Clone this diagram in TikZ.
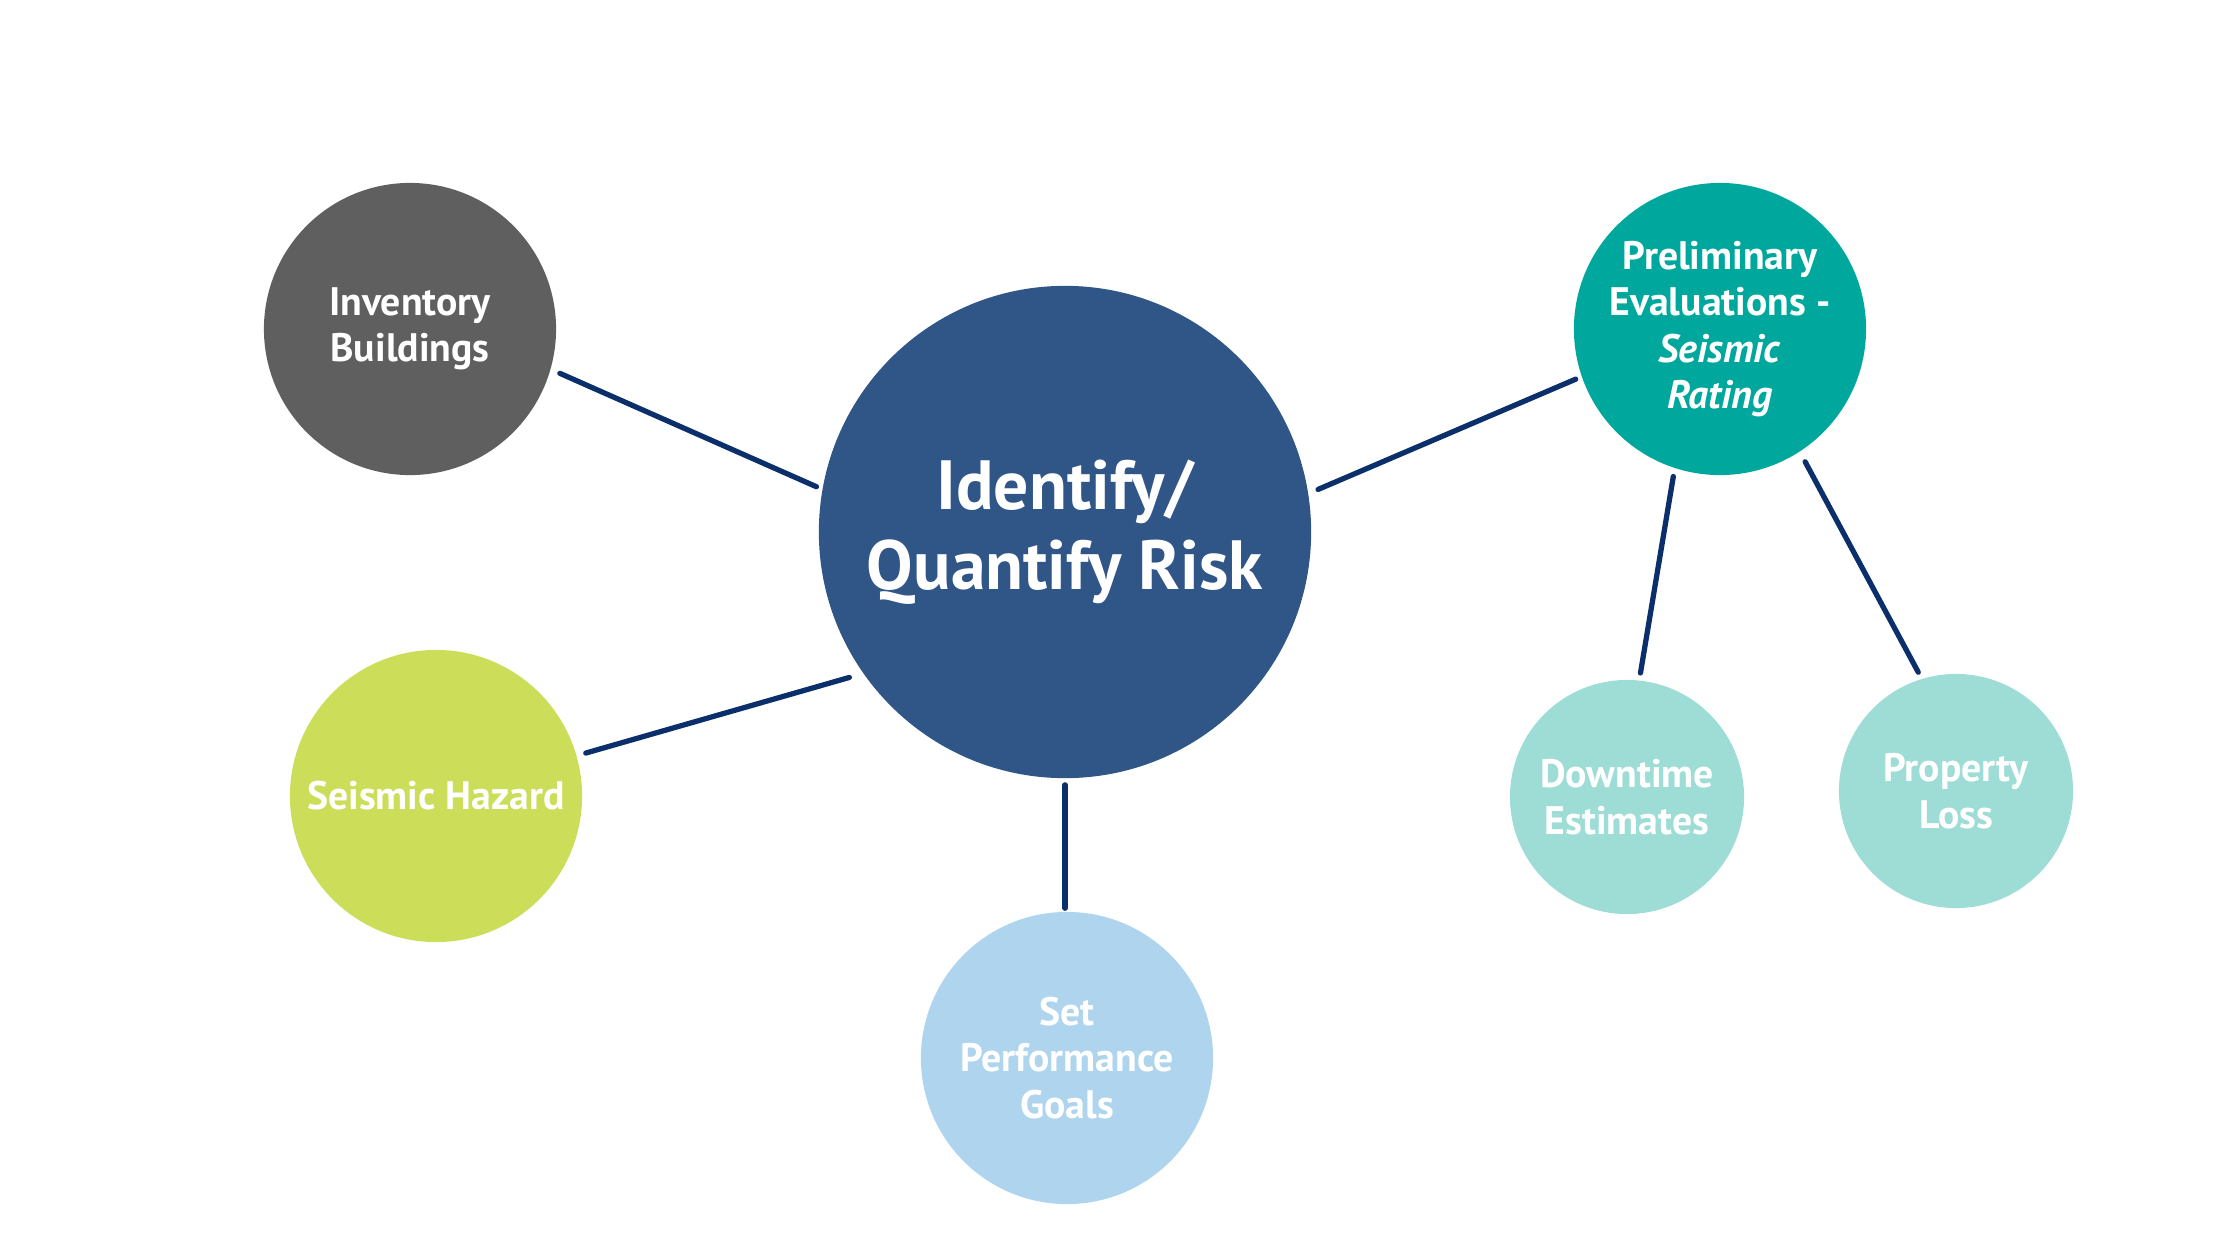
\documentclass[tikz,border=0pt]{standalone}
\usepackage{fontspec}
\setmainfont{PT Sans}
\usetikzlibrary{calc}
\definecolor{mainblue}{HTML}{305587}
\definecolor{invgray}{HTML}{5F5F5F}
\definecolor{hazgreen}{HTML}{CCDD5A}
\definecolor{goalblue}{HTML}{AED4EE}
\definecolor{preteal}{HTML}{00A79D}
\definecolor{lightteal}{HTML}{9EDCD6}
\definecolor{linkblue}{HTML}{0B2F6A}
\begin{document}
\begin{tikzpicture}[x=0.01cm,y=-0.01cm,
  bubble/.style={circle, inner sep=0pt, align=center, text=white,
    font=\bfseries\fontsize{11.3}{13.2}\selectfont},
  big/.style={bubble, minimum size=4.92cm, font=\bfseries\fontsize{19.8}{22.7}\selectfont},
  mid/.style={bubble, minimum size=2.92cm},
  small/.style={bubble, minimum size=2.34cm},
  link/.style={draw=linkblue, line width=1.5pt, line cap=round}]
\useasboundingbox (0,0) rectangle (2226,1260);
\node[big, fill=mainblue] (main) at (1065,532) {Identify/\\Quantify Risk};
\node[mid, fill=invgray] (inv) at (410,329) {Inventory\\Buildings};
\node[mid, fill=hazgreen] (haz) at (436,796) {Seismic Hazard};
\node[mid, fill=goalblue] (goal) at (1067,1058) {Set\\Performance\\Goals};
\node[mid, fill=preteal] (pre) at (1720,329) {Preliminary\\Evaluations -\\\textit{Seismic}\\\textit{Rating}};
\node[small, fill=lightteal] (down) at (1627,797) {Downtime\\Estimates};
\node[small, fill=lightteal] (loss) at (1956,791) {Property\\Loss};
\draw[link, shorten <=0.096cm, shorten >=0.06cm] (inv.-16.8) -- (main.170.9);
\draw[link, shorten <=0.09cm, shorten >=0.14cm] (haz.16.5) -- (main.215.5);
\draw[link, shorten <=0.06cm, shorten >=0.03cm] (main.south) -- (main.south |- goal.north);
\draw[link, shorten <=0.10cm, shorten >=0.06cm] (main.9) -- (pre.199.6);
\draw[link, shorten <=0.08cm, shorten >=0.07cm] (pre.252.6) -- (down.84);
\draw[link, shorten <=0.11cm, shorten >=0.07cm] (pre.-57.2) -- (loss.107.8);
\end{tikzpicture}
\end{document}
